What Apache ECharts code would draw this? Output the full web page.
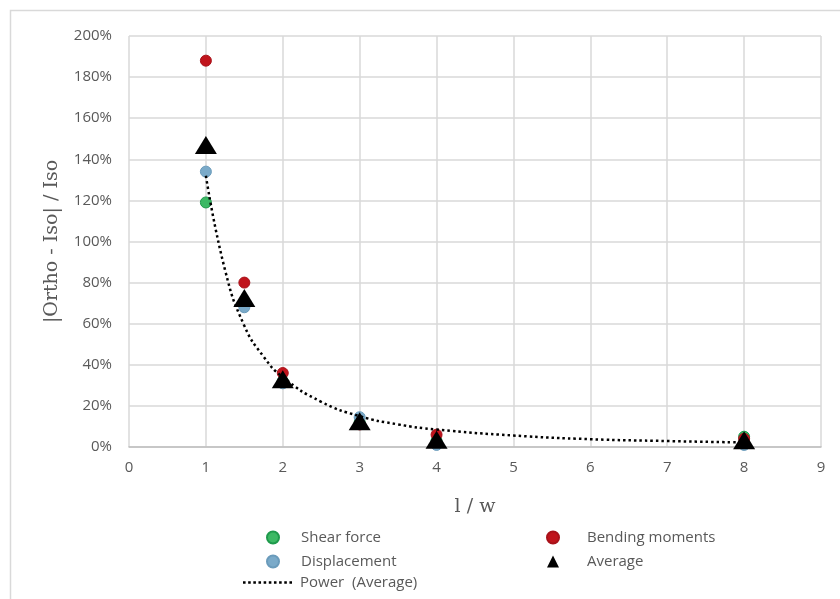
<!DOCTYPE html>
<html>
<head>
<meta charset="utf-8">
<script src="https://cdn.jsdelivr.net/npm/echarts@6/dist/echarts.min.js"></script>
<style>html,body{margin:0;padding:0;background:#fff}#c{width:840px;height:599px}</style>
</head>
<body>
<div id="c"></div>
<script>
// Data (percent values)
var shearForce = [[1, 119], [1.5, 70], [2, 32], [3, 12], [4, 3], [8, 5]];
var bendingMoments = [[1, 188], [1.5, 80], [2, 36], [3, 11], [4, 6], [8, 4]];
var displacement = [[1, 134], [1.5, 68], [2, 31], [3, 14.5], [4, 1], [8, 1]];
var average = [[1, 147], [1.5, 72.5], [2, 33], [3, 12.5], [4, 3.5], [8, 3.3]];
// Power trend line of the average
var powerTrend = [[1, 132], [1.25, 86], [1.5, 59], [1.75, 44], [2, 34], [2.5, 22], [3, 15], [3.5, 11], [4, 8.5], [5, 5.6], [6, 3.8], [7, 2.9], [8, 2.2]];
var xTicks = [0, 1, 2, 3, 4, 5, 6, 7, 8, 9];
var yTicks = [0, 20, 40, 60, 80, 100, 120, 140, 160, 180, 200];

var chart = echarts.init(document.getElementById('c'), null, {renderer: 'canvas'});
var labelFont = 'Open Sans';
var dotPath = 'path://';
for (var i = 0; i < 10; i++) { dotPath += 'M' + (i * 5) + ',0h2.5v2.5h-2.5z'; }
var option = {
  animation: false,
  backgroundColor: '#ffffff',
  graphic: [{
    type: 'rect', silent: true, z: -10,
    shape: {x: 10.5, y: 10.5, width: 850, height: 620},
    style: {fill: 'none', stroke: '#d9d9d9', lineWidth: 1.5}
  }],
  grid: {left: 129, right: 19, top: 36, bottom: 152, containLabel: false},
  xAxis: {
    type: 'value', min: xTicks[0], max: xTicks[xTicks.length - 1], interval: 1,
    name: 'l / w', nameLocation: 'middle', nameGap: 51,
    nameTextStyle: {fontFamily: 'DejaVu Serif', fontSize: 19, color: '#595959'},
    axisLine: {show: true, lineStyle: {color: '#bfbfbf', width: 1.5}},
    axisTick: {show: false},
    axisLabel: {margin: 13, color: '#595959', fontSize: 15, fontFamily: labelFont},
    splitLine: {show: true, lineStyle: {color: '#d9d9d9', width: 1.5}}
  },
  yAxis: {
    type: 'value', min: yTicks[0], max: yTicks[yTicks.length - 1], interval: 20,
    name: '|Ortho - Iso| / Iso', nameLocation: 'middle', nameGap: 67, nameRotate: 90,
    nameTextStyle: {fontFamily: 'DejaVu Serif', fontSize: 19, color: '#595959'},
    axisLine: {show: false},
    axisTick: {show: false},
    axisLabel: {margin: 17, color: '#595959', fontSize: 15, fontFamily: labelFont, formatter: '{value}%'},
    splitLine: {show: true, lineStyle: {color: '#d9d9d9', width: 1.5}}
  },
  legend: [{
    data: ['Shear force', 'Displacement'],
    orient: 'vertical', left: 261, top: 525, itemWidth: 12, itemHeight: 12, itemGap: 9,
    textStyle: {color: '#595959', fontSize: 15, fontFamily: labelFont, padding: [0, 0, 0, 17]}
  }, {
    data: [{name: 'Power  (Average)', icon: dotPath}],
    orient: 'vertical', left: 238, top: 570, itemWidth: 49, itemHeight: 12,
    textStyle: {color: '#595959', fontSize: 15, fontFamily: labelFont, padding: [0, 0, 0, 3]}
  }, {
    data: ['Bending moments', 'Average'],
    orient: 'vertical', left: 541, top: 525, itemWidth: 12, itemHeight: 12, itemGap: 9,
    textStyle: {color: '#595959', fontSize: 15, fontFamily: labelFont, padding: [0, 0, 0, 23]}
  }],
  series: [{
    name: 'Shear force', type: 'scatter', data: shearForce, symbol: 'circle', symbolSize: 11,
    itemStyle: {color: '#3cb964', borderColor: '#1f9a4c', borderWidth: 1, opacity: 1}, z: 2
  }, {
    name: 'Displacement', type: 'scatter', data: displacement, symbol: 'circle', symbolSize: 11,
    itemStyle: {color: '#7aaac9', borderColor: '#6a9bbb', borderWidth: 1, opacity: 1}, z: 2
  }, {
    name: 'Bending moments', type: 'scatter', data: bendingMoments, symbol: 'circle', symbolSize: 11,
    itemStyle: {color: '#c0141c', borderColor: '#a8121a', borderWidth: 1, opacity: 1}, z: 2
  }, {
    name: 'Power  (Average)', type: 'line', data: powerTrend, smooth: true, showSymbol: false, symbol: 'none',
    lineStyle: {color: '#000000', width: 2.5, type: [2.5, 3]}, itemStyle: {color: '#000'}, z: 3
  }, {
    name: 'Average', type: 'scatter', data: average, symbol: 'triangle', symbolSize: [22, 18],
    itemStyle: {color: '#000000', opacity: 1}, z: 4
  }]
};
chart.setOption(option);
</script>
</body>
</html>
